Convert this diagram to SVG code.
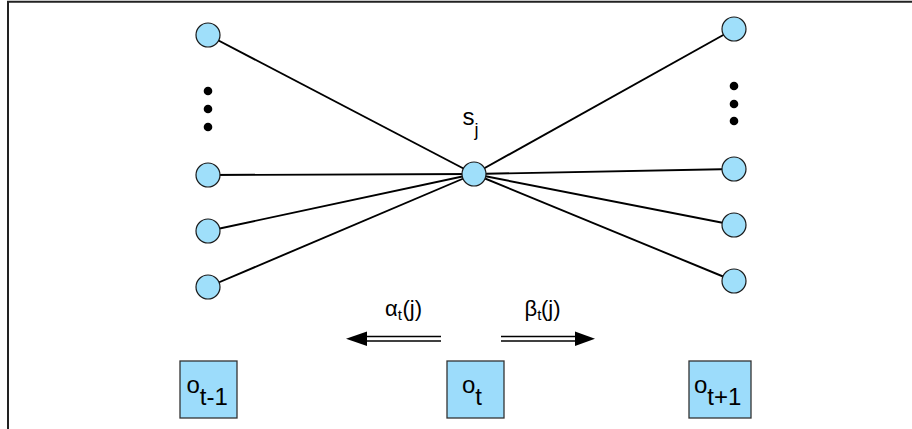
<svg xmlns="http://www.w3.org/2000/svg" width="912" height="429" viewBox="0 0 912 429">
<style>
.edge{stroke:#000;stroke-width:1.9;fill:none}
.node{fill:#9fdffa;stroke:#1a1a1a;stroke-width:1.2}
.box{fill:#9cdcfb;stroke:#333;stroke-width:1.3}
.dot{fill:#000}
.t{font-family:"Liberation Sans",Arial,sans-serif;fill:#000}
.shaft{stroke:#000;stroke-width:1.7}
</style>
<rect x="0" y="0" width="912" height="429" fill="#fff"/>
<path d="M8 440 V1.8 H920" fill="none" stroke="#222" stroke-width="2"/>
<g id="connectors">
<line class="edge" x1="208" y1="35" x2="474" y2="174"/>
<line class="edge" x1="208" y1="175" x2="474" y2="174"/>
<line class="edge" x1="208" y1="231" x2="474" y2="174"/>
<line class="edge" x1="208" y1="287" x2="474" y2="174"/>
<line class="edge" x1="734" y1="29" x2="474" y2="174"/>
<line class="edge" x1="734" y1="169" x2="474" y2="174"/>
<line class="edge" x1="734" y1="225" x2="474" y2="174"/>
<line class="edge" x1="734" y1="281" x2="474" y2="174"/>
</g>
<g id="left-nodes">
<circle id="l1" class="node" cx="208" cy="35" r="12"/>
<circle id="l2" class="node" cx="208" cy="175" r="12"/>
<circle id="l3" class="node" cx="208" cy="231" r="12"/>
<circle id="l4" class="node" cx="208" cy="287" r="12"/>
<g id="left-dots"><circle class="dot" cx="208" cy="91" r="4.3"/><circle class="dot" cx="208" cy="109" r="4.3"/><circle class="dot" cx="208" cy="127" r="4.3"/></g>
</g>
<g id="right-nodes">
<circle id="r1" class="node" cx="734" cy="29" r="12"/>
<circle id="r2" class="node" cx="734" cy="169" r="12"/>
<circle id="r3" class="node" cx="734" cy="225" r="12"/>
<circle id="r4" class="node" cx="734" cy="281" r="12"/>
<g id="right-dots"><circle class="dot" cx="734" cy="86" r="4.3"/><circle class="dot" cx="734" cy="104" r="4.3"/><circle class="dot" cx="734" cy="121" r="4.3"/></g>
</g>
<g id="sj">
<circle class="node" cx="474" cy="174" r="12"/>
<text class="t" x="462.5" y="125" font-size="24">s<tspan font-size="18" y="135.5">j</tspan></text>
</g>
<g id="alpha">
<line class="shaft" x1="365" y1="336.5" x2="441" y2="336.5"/>
<line class="shaft" x1="365" y1="341" x2="441" y2="341"/>
<polygon points="346,338.8 367,331.5 367,346" fill="#000"/>
<text class="t" x="385" y="316" font-size="22">α<tspan font-size="15" y="320">t</tspan><tspan x="402.5" y="316">(j)</tspan></text>
</g>
<g id="beta">
<line class="shaft" x1="501" y1="336.5" x2="577" y2="336.5"/>
<line class="shaft" x1="501" y1="341" x2="577" y2="341"/>
<polygon points="595,338.8 575,331.5 575,346" fill="#000"/>
<text class="t" x="524.5" y="316" font-size="22">β<tspan font-size="15" y="320">t</tspan><tspan x="541" y="316">(j)</tspan></text>
</g>
<g id="o-t-minus-1">
<rect class="box" x="180" y="361" width="57" height="57"/>
<text class="t" x="186.5" y="392.5" font-size="24">o<tspan y="405">t-1</tspan></text>
</g>
<g id="o-t">
<rect class="box" x="447" y="361" width="57" height="57"/>
<text class="t" x="462" y="392.5" font-size="24">o<tspan y="405">t</tspan></text>
</g>
<g id="o-t-plus-1">
<rect class="box" x="689" y="361" width="62" height="57"/>
<text class="t" x="694" y="392.5" font-size="24">o<tspan y="405">t+1</tspan></text>
</g>
</svg>
